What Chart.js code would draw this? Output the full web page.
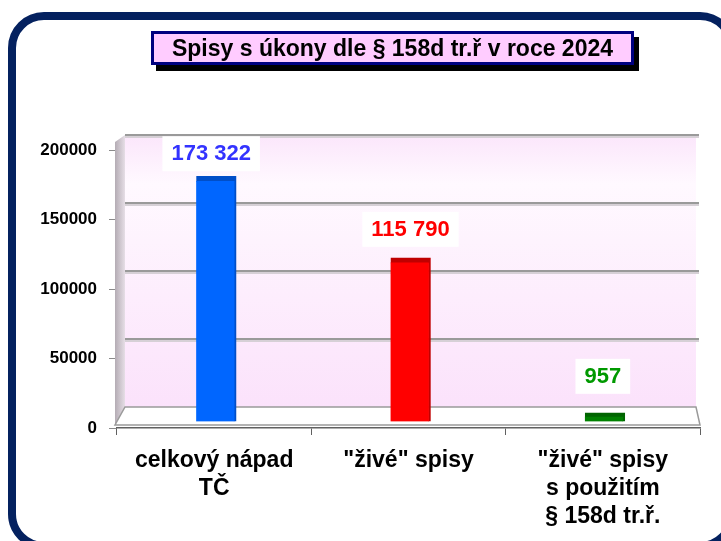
<!DOCTYPE html>
<html>
<head>
<meta charset="utf-8">
<script src="https://cdn.jsdelivr.net/npm/chart.js@4.4.1/dist/chart.umd.min.js"></script>
<style>
  html, body { margin: 0; padding: 0; background: #fff; width: 721px; height: 541px; overflow: hidden; }
  #wrap { position: relative; width: 721px; height: 541px; overflow: hidden; }
  #spisyChart { position: absolute; left: 0; top: 0; }
  .frame { position: absolute; left: 8px; top: 12px; width: 712px; height: 522px;
           border: 8px solid #04215f; border-radius: 36px; pointer-events: none; }
  .title { position: absolute; left: 151px; top: 31px; width: 477px; height: 28px;
           border: 3px solid #00007f; background: #ffccff; box-shadow: 5px 6px 0 #000;
           font: bold 23px 'Liberation Sans', Arial, sans-serif; line-height: 29px;
           text-align: center; color: #000; }
</style>
</head>
<body>
<div id="wrap">
  <canvas id="spisyChart" width="721" height="541"></canvas>
  <div class="frame"></div>
  <div class="title">Spisy s úkony dle § 158d tr.ř v roce 2024</div>
</div>
<script>
  const categories = [['celkový nápad', 'TČ'], ['"živé" spisy'], ['"živé" spisy', 's použitím', '§ 158d tr.ř.']];
  const values = [173322, 115790, 957];
  const valueLabels = ['173 322', '115 790', '957'];
  const barColors = ['#0066ff', '#ff0000', '#008000'];
  const barTopColors = ['#004ec8', '#c00000', '#006400'];
  const labelColors = ['#3333ff', '#ff0000', '#009900'];
  const yMax = 200000;
  const yStep = 50000;

  const FONT = "'Liberation Sans', Arial, sans-serif";
  // bars stand in the middle of the 3D floor, a bit nearer than the front axis
  const BAR_DX = 2, BAR_DY = -6, BAR_SY = 1.02;
  const labelGap = [23, 29, 37];
  const labelShift = [-5, 0, -2];

  // back wall, side wall and floor of the 3D plot
  const wallsPlugin = {
    id: 'walls',
    beforeDatasetsDraw(chart) {
      const { ctx, chartArea: ca, scales: { y } } = chart;
      const L = ca.left, R = ca.right, B = ca.bottom;
      const bl = L + 8, br = R - 4, bb = B - 21, k = 272 / 278;
      const backY = v => bb - (B - y.getPixelForValue(v)) * k;
      const bt = backY(yMax);
      ctx.save();
      // back wall
      const g = ctx.createLinearGradient(0, bt, 0, bb);
      g.addColorStop(0, '#fbe6fb');
      g.addColorStop(0.18, '#fff9ff');
      g.addColorStop(1, '#fbe2fb');
      ctx.fillStyle = g;
      ctx.fillRect(bl, bt, br - bl, bb - bt);
      // grid lines on the back wall
      for (let v = yStep; v <= yMax; v += yStep) {
        const yy = Math.round(backY(v));
        ctx.fillStyle = '#d6d0d6';
        ctx.fillRect(bl, yy + 1, br - bl + 3, 2);
        ctx.fillStyle = '#9a9a9a';
        ctx.fillRect(bl, yy - 1, br - bl + 3, 2);
      }
      // left side wall
      const sg = ctx.createLinearGradient(L - 2, 0, bl, 0);
      sg.addColorStop(0, '#b4acb4');
      sg.addColorStop(1, '#e6dee6');
      ctx.fillStyle = sg;
      ctx.beginPath();
      ctx.moveTo(L - 2, bt + 7);
      ctx.lineTo(bl, bt);
      ctx.lineTo(bl, bb);
      ctx.lineTo(L - 2, B - 3);
      ctx.closePath();
      ctx.fill();
      // floor
      ctx.fillStyle = '#ffffff';
      ctx.strokeStyle = '#9a9a9a';
      ctx.lineWidth = 1.5;
      ctx.beginPath();
      ctx.moveTo(bl, bb);
      ctx.lineTo(br, bb);
      ctx.lineTo(R, B - 3);
      ctx.lineTo(L - 2, B - 3);
      ctx.closePath();
      ctx.fill();
      ctx.stroke();
      ctx.restore();

      ctx.save();
      ctx.translate(BAR_DX, BAR_DY + B);
      ctx.scale(1, BAR_SY);
      ctx.translate(0, -B);
    },
    afterDatasetsDraw(chart) {
      const { ctx, chartArea: ca } = chart;
      const B = ca.bottom;
      ctx.restore();
      // value labels in white boxes
      const meta = chart.getDatasetMeta(0);
      ctx.save();
      ctx.font = 'bold 22px ' + FONT;
      ctx.textAlign = 'center';
      ctx.textBaseline = 'middle';
      meta.data.forEach((bar, i) => {
        const top = B + (bar.y - B) * BAR_SY + BAR_DY;
        const cx = bar.x + BAR_DX + labelShift[i];
        const cy = top - labelGap[i];
        const w = ctx.measureText(valueLabels[i]).width + 18;
        ctx.fillStyle = '#ffffff';
        ctx.fillRect(cx - w / 2, cy - 17, w, 35);
        ctx.fillStyle = labelColors[i];
        ctx.fillText(valueLabels[i], cx, cy + 1);
      });
      ctx.restore();
    }
  };

  const ctx = document.getElementById('spisyChart').getContext('2d');
  const spisyChart = new Chart(ctx, {
    type: 'bar',
    data: {
      labels: categories,
      datasets: [{
        data: values,
        backgroundColor: barColors,
        borderColor: barTopColors,
        borderWidth: { top: 5, right: 2, left: 0, bottom: 0 },
        borderSkipped: false,
        barThickness: 40,
        minBarLength: 9
      }]
    },
    options: {
      responsive: false,
      animation: false,
      layout: { padding: { left: 0, top: 150, right: 21, bottom: 0 } },
      plugins: {
        legend: { display: false },
        title: { display: false },
        tooltip: { enabled: false }
      },
      scales: {
        x: {
          afterFit: s => { s.height = 113; },
          border: { display: true, color: '#606060', width: 1.5 },
          grid: { drawOnChartArea: false, tickLength: 7, color: '#606060' },
          ticks: {
            color: '#000',
            padding: 12,
            maxRotation: 0,
            font: { family: FONT, size: 23, weight: 'bold', lineHeight: 1.22 }
          }
        },
        y: {
          min: 0,
          max: yMax,
          afterFit: s => { s.width = 117; },
          border: { display: false },
          grid: { drawOnChartArea: false, tickLength: 8, color: '#8a8a8a' },
          ticks: {
            stepSize: yStep,
            color: '#000',
            padding: 12,
            font: { family: FONT, size: 17, weight: 'bold' },
            callback: v => String(v)
          }
        }
      }
    },
    plugins: [wallsPlugin]
  });
</script>
</body>
</html>
